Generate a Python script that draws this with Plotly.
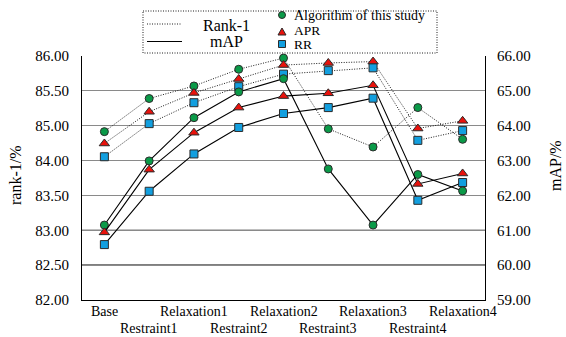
import numpy as np
import plotly.graph_objects as go

# Stages along the x axis
categories = ["Base", "Restraint1", "Relaxation1", "Restraint2", "Relaxation2",
              "Restraint3", "Relaxation3", "Restraint4", "Relaxation4"]

# Rank-1 (%) per method
rank1_ours = [84.83, 85.39, 85.57, 85.81, 85.97, 84.91, 84.39, 85.26, 84.61]
rank1_apr = [84.49, 85.20, 85.47, 85.67, 85.87, 85.90, 85.92, 84.92, 85.07]
rank1_rr = [84.11, 85.03, 85.33, 85.56, 85.74, 85.79, 85.83, 84.58, 84.86]

# mAP (%) per method
map_ours = [61.15, 62.99, 64.23, 64.97, 65.35, 62.76, 61.15, 62.60, 62.13]
map_apr = [60.94, 62.74, 63.80, 64.52, 64.85, 64.93, 65.16, 62.33, 62.63]
map_rr = [60.59, 62.12, 63.19, 63.95, 64.35, 64.52, 64.79, 61.86, 62.37]

# Axis tick labels
rank1_ticks = [82.00, 82.50, 83.00, 83.50, 84.00, 85.00, 85.50, 86.00]
map_ticks = [59, 60, 61, 62, 63, 64, 65, 66]

W, H = 566, 337
L, R, T, B = 82, 81, 56, 37
PW, PH = W - L - R, H - T - B

FONT = "Liberation Serif"
GREEN, RED, BLUE = "#0a9a48", "#e8120c", "#129fdf"
EDGE = "#2b2b2b"
DOT = "1px,1.5px"

methods = [
    ("Algorithm of this study", "circle", 8, GREEN, rank1_ours, map_ours),
    ("APR", "triangle-up", 9, RED, rank1_apr, map_apr),
    ("RR", "square", 8, BLUE, rank1_rr, map_rr),
]

# The rank-1 axis labels are evenly spaced slots; place values by slot
slots = np.arange(len(rank1_ticks))


def rank1_slot(vals):
    return np.interp(vals, rank1_ticks, slots)


fig = go.Figure()
for name, sym, size, col, r1, mp in methods:
    fig.add_trace(go.Scatter(
        x=categories, y=rank1_slot(r1), mode="lines+markers", yaxis="y",
        line=dict(color="#1e1e1e", width=1, dash=DOT),
        marker=dict(symbol=sym, size=size, color=col, line=dict(color=EDGE, width=1)),
        showlegend=False, name=name, cliponaxis=False))
for name, sym, size, col, r1, mp in methods:
    fig.add_trace(go.Scatter(
        x=categories, y=mp, mode="lines+markers", yaxis="y2",
        line=dict(color="black", width=1.1),
        marker=dict(symbol=sym, size=size, color=col, line=dict(color=EDGE, width=1)),
        showlegend=False, name=name, cliponaxis=False))


def px(x):
    return (x - L) / PW


def py(y):
    return (H - B - y) / PH


shapes = []
# darker reference lines at the two lowest interior levels
for s in (1, 2):
    shapes.append(dict(type="line", xref="paper", yref="y", x0=0, x1=1, y0=s, y1=s,
                       line=dict(color="black", width=1.2), layer="below"))

# legend frame and line samples
shapes.append(dict(type="rect", xref="paper", yref="paper",
                   x0=px(143), x1=px(437), y0=py(11), y1=py(53),
                   line=dict(color="#1e1e1e", width=1, dash=DOT), fillcolor="white"))
shapes.append(dict(type="line", xref="paper", yref="paper", x0=px(147), x1=px(181),
                   y0=py(24), y1=py(24), line=dict(color="#1e1e1e", width=1, dash=DOT)))
shapes.append(dict(type="line", xref="paper", yref="paper", x0=px(147), x1=px(182),
                   y0=py(41.5), y1=py(41.5), line=dict(color="black", width=1.2)))
# legend markers
shapes.append(dict(type="circle", xref="paper", yref="paper", xsizemode="pixel", ysizemode="pixel",
                   xanchor=px(282), yanchor=py(15), x0=-3.5, x1=3.5, y0=-3.5, y1=3.5,
                   fillcolor=GREEN, line=dict(color=EDGE, width=1)))
shapes.append(dict(type="path", xref="paper", yref="paper", xsizemode="pixel", ysizemode="pixel",
                   xanchor=px(282), yanchor=py(32), path="M -4 -3 L 4 -3 L 0 4 Z",
                   fillcolor=RED, line=dict(color=EDGE, width=1)))
shapes.append(dict(type="rect", xref="paper", yref="paper", xsizemode="pixel", ysizemode="pixel",
                   xanchor=px(282), yanchor=py(44), x0=-3.5, x1=3.5, y0=-3.5, y1=3.5,
                   fillcolor=BLUE, line=dict(color=EDGE, width=1)))


def note(text, x, y, size, xanchor="center", angle=0):
    return dict(text=text, x=px(x), y=py(y), xref="paper", yref="paper", showarrow=False,
                xanchor=xanchor, yanchor="middle", textangle=angle,
                font=dict(size=size, family=FONT, color="black"))


annotations = [
    note("Rank-1", 226, 25, 16),
    note("mAP", 226, 41, 16),
    note("Algorithm of this study", 292, 15, 14, "left"),
    note("APR", 292, 31, 13.5, "left"),
    note("RR", 292, 45, 13.5, "left"),
    note("rank-1/%", 15, 175, 16, angle=-90),
    note("mAP/%", 555, 166, 16, angle=-90),
]

# Staggered category labels: even stages on the first row, odd ones on the second
for i, c in enumerate(categories):
    annotations.append(dict(text=c, x=c, xref="x", y=py(311 if i % 2 == 0 else 328.5),
                            yref="paper", showarrow=False, xanchor="center", yanchor="middle",
                            font=dict(size=14, family=FONT, color="black")))

fig.update_layout(
    width=W, height=H, margin=dict(l=L, r=R, t=T, b=B, autoexpand=False),
    paper_bgcolor="white", plot_bgcolor="white",
    font=dict(family=FONT, color="black"),
    xaxis=dict(type="category", range=[-0.5, len(categories) - 0.5],
               showticklabels=False, automargin=False,
               showgrid=False, showline=True, linecolor="black", linewidth=1.2,
               ticks="", zeroline=False),
    yaxis=dict(range=[0, len(rank1_ticks) - 1], tickvals=list(slots),
               ticktext=[f"{v:.2f}" for v in rank1_ticks], automargin=False,
               showgrid=True, gridcolor="#8a8a8a", gridwidth=1.3,
               showline=True, linecolor="black", linewidth=1.2, ticks="",
               ticklabelstandoff=9, tickfont=dict(size=15, family=FONT), zeroline=False),
    yaxis2=dict(range=[map_ticks[0], map_ticks[-1]], tickvals=map_ticks, automargin=False,
                ticktext=[f"{v:.2f}" for v in map_ticks], overlaying="y", side="right",
                showgrid=False, showline=True, linecolor="black", linewidth=1.2, ticks="",
                ticklabelstandoff=8, tickfont=dict(size=15, family=FONT), zeroline=False),
    shapes=shapes, annotations=annotations,
)

fig.write_html("out.html")
